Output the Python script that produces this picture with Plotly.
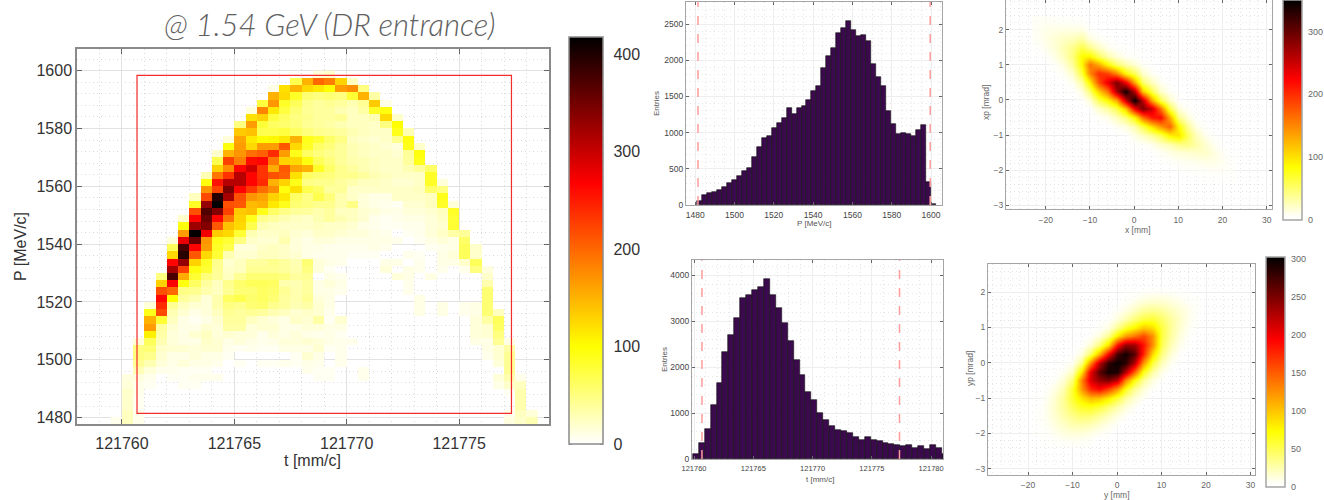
import plotly.graph_objects as go

W, H = 1324, 500

# ---------- main t-P map: (P low edge, t offset from T0, cell values) ----------
T0 = 121760
T_STEP = 0.5
P_STEP = 2.5
T_EDGES = [T0 - 0.5 + T_STEP * i for i in range(39)]
P_EDGES = [1477.5 + P_STEP * i for i in range(50)]
TP_SEGMENTS = [
    (1597.5, 8.5, [15, 20]),
    (1595, 7.5, [70, 150, 200, 185, 130, 25]),
    (1592.5, 6.5, [10, 120, 150, 125, 115, 100, 165, 175, 50]),
    (1590, 6.5, [150, 125, 85, 55, 50, 55, 50, 80, 150, 35]),
    (1587.5, 6, [75, 170, 85, 65, 45, 38, 42, 38, 30, 42, 135, 10]),
    (1585, 5.5, [15, 180, 115, 75, 55, 42, 38, 38, 30, 25, 35, 85, 95]),
    (1582.5, 5.5, [120, 130, 75, 62, 50, 45, 38, 38, 42, 25, 25, 30, 125, 20]),
    (1580, 5, [50, 165, 78, 62, 58, 52, 42, 38, 35, 30, 25, 25, 22, 50, 100]),
    (1577.5, 5, [135, 140, 70, 70, 75, 62, 52, 45, 42, 38, 30, 25, 22, 22, 90, 30]),
    (1575, 4.5, [15, 160, 115, 100, 105, 115, 150, 90, 80, 60, 48, 25, 22, 18, 22, 45, 95]),
    (1572.5, 4.5, [95, 165, 125, 165, 165, 210, 125, 85, 60, 52, 40, 30, 25, 22, 18, 14, 90, 20]),
    (1570, 4, [20, 150, 170, 195, 205, 240, 165, 90, 62, 52, 45, 40, 30, 25, 22, 22, 18, 40, 95]),
    (1567.5, 4, [70, 225, 185, 260, 265, 190, 130, 125, 95, 65, 52, 40, 32, 30, 25, 22, 22, 38, 90]),
    (1565, 4, [130, 175, 265, 295, 235, 155, 210, 160, 150, 85, 60, 45, 38, 30, 25, 22, 22, 30, 40, 60]),
    (1562.5, 3.5, [30, 190, 235, 310, 265, 235, 215, 205, 120, 62, 55, 52, 45, 45, 38, 30, 25, 22, 22, 22, 85]),
    (1560, 3.5, [95, 255, 310, 310, 265, 240, 150, 130, 90, 48, 45, 45, 38, 32, 25, 25, 22, 18, 18, 22, 85, 15]),
    (1557.5, 3.5, [170, 225, 345, 265, 230, 195, 175, 95, 120, 70, 60, 38, 40, 22, 22, 22, 22, 22, 22, 25, 60, 50]),
    (1555, 3, [25, 220, 395, 320, 215, 170, 160, 130, 115, 60, 48, 70, 52, 32, 22, 15, 10, 10, 22, 22, 22, 25, 90]),
    (1552.5, 3, [85, 330, 415, 215, 210, 145, 150, 115, 90, 55, 50, 45, 45, 32, 48, 15, 10, 8, 5, 18, 18, 25, 85, 15]),
    (1550, 3, [215, 370, 340, 225, 135, 140, 90, 60, 48, 40, 38, 32, 38, 25, 25, 18, 15, 10, 10, 15, 15, 18, 25, 85]),
    (1547.5, 2.5, [20, 265, 355, 265, 190, 130, 90, 45, 38, 30, 25, 22, 30, 38, 30, 25, 18, 8, 5, 8, 10, 10, 15, 22, 80]),
    (1545, 2.5, [95, 325, 340, 210, 140, 125, 70, 30, 25, 22, 22, 22, 25, 22, 22, 18, 10, 8, 5, 5, 8, 8, 15, 18, 80]),
    (1542.5, 2.5, [165, 415, 275, 135, 125, 80, 30, 22, 22, 25, 18, 15, 22, 22, 18, 15, 15, 10, 8, 0, 5, 8, 15, 22, 35, 40]),
    (1540, 2, [15, 280, 355, 170, 90, 80, 50, 22, 18, 18, 32, 15, 10, 15, 15, 10, 10, 10, 10, 10, 8, 0, 5, 10, 15, 10, 60]),
    (1537.5, 2, [65, 375, 265, 165, 85, 70, 15, 15, 22, 25, 22, 15, 10, 10, 8, 8, 8, 8, 10, 8, 0, 0, 0, 5, 8, 10, 65, 20]),
    (1535, 2, [125, 395, 210, 125, 80, 30, 18, 18, 25, 25, 22, 18, 10, 8, 8, 8, 5, 5, 5, 0, 0, 8, 5, 0, 10, 15, 65, 20]),
    (1532.5, 2, [265, 330, 130, 85, 45, 18, 25, 38, 38, 45, 38, 30, 55, 15, 10, 8, 0, 0, 0, 10, 10, 0, 8, 0, 10, 10, 20, 65]),
    (1530, 2, [320, 225, 95, 80, 42, 22, 25, 42, 42, 42, 38, 32, 50, 15, 5, 0, 0, 0, 0, 15, 0, 10, 8, 0, 8, 0, 8, 50, 12]),
    (1527.5, 1.5, [50, 375, 155, 80, 52, 40, 25, 42, 55, 55, 55, 50, 38, 42, 0, 10, 8]),
    (1527.5, 12, [15, 10, 0, 10]), (1527.5, 16, [20]),
    (1525, 1.5, [130, 270, 95, 62, 38, 25, 45, 58, 65, 65, 62, 32, 30, 38, 10, 15, 10]),
    (1525, 12.5, [8]), (1525, 16, [32]),
    (1522.5, 1.5, [215, 200, 48, 45, 32, 25, 42, 55, 55, 62, 58, 42, 32, 38, 10, 10, 8]),
    (1522.5, 12.5, [8]), (1522.5, 16, [55]),
    (1520, 1.5, [265, 100, 38, 30, 15, 32, 62, 70, 58, 62, 55, 38, 32, 42, 15, 10]),
    (1520, 13, [10]), (1520, 16, [55]),
    (1517.5, 1, [15, 240, 42, 25, 18, 15, 32, 50, 45, 55, 58, 45, 38, 30, 35, 18, 10]),
    (1517.5, 13, [10, 0, 10, 0, 8, 10, 55]),
    (1515, 1, [90, 220, 30, 18, 10, 15, 25, 42, 38, 42, 38, 30, 25, 18, 22, 18, 8]),
    (1515, 13, [10, 0, 10, 0, 8, 10, 55, 25]),
    (1512.5, 1, [150, 80, 25, 10, 5, 10, 18, 38, 38, 25, 18, 15, 10, 22, 18, 35, 5, 18]),
    (1512.5, 15.5, [15, 35, 65]),
    (1510, 1, [165, 38, 18, 10, 10, 18, 15, 35, 35, 15, 18, 18, 10, 10, 15, 15, 10, 10]),
    (1510, 15.5, [15, 18, 60]),
    (1507.5, 1, [110, 35, 15, 10, 18, 25, 15, 18, 15, 15, 8, 15, 10, 15, 10, 8, 10, 5]),
    (1507.5, 15.5, [15, 18, 50]),
    (1505, 0.5, [15, 65, 30, 15, 10, 10, 22, 18, 10, 15, 10, 8, 10, 15, 15, 18, 15, 10, 8, 8]),
    (1505, 15.5, [10, 10, 42, 10]),
    (1502.5, 0.5, [50, 55, 22, 18, 18, 15, 18, 18, 8, 5, 8, 5, 5, 10, 10, 10, 18, 5, 8]),
    (1502.5, 16, [10, 18, 35]),
    (1500, 0.5, [50, 45, 18, 10, 10, 15, 10, 10, 5, 0, 0, 0, 0, 0, 5, 18, 10, 0, 8]),
    (1500, 16, [8, 18, 42]),
    (1497.5, 0.5, [42, 30, 15, 10, 15, 10, 10, 8, 0, 5, 0, 5, 5, 8, 5, 10, 8, 0, 8]),
    (1497.5, 16.5, [15, 42]),
    (1495, 0.5, [28, 15, 8, 8, 5, 5, 5, 0, 0, 0, 0, 0, 0, 0, 0, 8, 5, 5]),
    (1495, 10.5, [8]), (1495, 17, [42]),
    (1492.5, 0, [12, 12, 8, 0, 5, 5, 8, 8, 8]),
    (1492.5, 8.5, [5, 5, 0, 0, 8]), (1492.5, 16.5, [15, 32, 8]),
    (1490, 0, [15, 8, 5, 0, 0, 5, 5]), (1490, 16.5, [10, 20, 25]),
    (1487.5, 0, [20, 8]), (1487.5, 17, [5, 32]),
    (1485, 0, [20, 5]), (1485, 17.5, [32]),
    (1482.5, 0, [20, 5]), (1482.5, 17.5, [32]),
    (1480, 0, [25, 8]), (1480, 17, [8, 25, 15]),
    (1477.5, -0.5, [8, 25, 8]), (1477.5, 17, [12, 20, 30]),
]
BOX_T = [121760.67, 121777.33]
BOX_P = [1481.5, 1598.4]

# ---------- momentum histogram ----------
HP_START = 1481.0
HP_WIDTH = 2.528
HP_COUNTS = [60, 145, 165, 185, 210, 255, 300, 345, 400, 475, 510, 665, 795, 925, 955, 1065,
             1130, 1205, 1340, 1260, 1345, 1370, 1455, 1570, 1645, 1900, 2065, 2165, 2380,
             2445, 2540, 2415, 2330, 2350, 2265, 1945, 1770, 1645, 1300, 1120, 975, 990, 980,
             960, 1030, 1105, 311, 10]
HP_CUTS = [1481.4, 1599.6]

# ---------- time histogram ----------
HT_START = 121759.9
HT_WIDTH = 0.5
HT_COUNTS = [110, 340, 660, 1170, 1665, 2320, 2700, 3060, 3500, 3580, 3670, 3740, 3930, 3570,
             3290, 2960, 2560, 2160, 1820, 1460, 1280, 1000, 840, 710, 630, 600, 570, 490, 410,
             470, 415, 385, 350, 335, 310, 280, 295, 240, 280, 225, 300, 250, 110]
HT_CUTS = [121760.67, 121777.33]

# ---------- transverse phase-space maps: column -> (first row, values upward) ----------
ANGLE_ROWS = [-2.25 + 0.25 * i for i in range(19)]
X_COLUMNS = {
    -22: (1.25, [2, 4, 7, 8, 7]),
    -20: (1.0, [1, 5, 10, 12, 11, 7]),
    -18: (0.75, [3, 6, 12, 17, 17, 12, 6]),
    -16: (0.5, [3, 8, 15, 25, 28, 22, 13, 6]),
    -14: (0.25, [3, 9, 20, 36, 45, 40, 25, 13, 5]),
    -12: (0.0, [4, 14, 32, 63, 85, 85, 61, 31, 13, 4]),
    -10: (-0.25, [5, 16, 46, 90, 148, 160, 90, 40, 14, 4]),
    -8: (-0.5, [6, 20, 56, 110, 180, 200, 130, 55, 22, 7, 2]),
    -6: (-0.75, [3, 10, 35, 85, 160, 235, 190, 85, 30, 10, 3]),
    -4: (-0.75, [8, 25, 60, 130, 270, 290, 150, 50, 16, 5]),
    -2: (-1.0, [3, 14, 45, 115, 250, 345, 230, 85, 30, 8, 3]),
    0: (-1.25, [4, 12, 30, 85, 230, 350, 260, 130, 55, 18, 5, 2]),
    2: (-1.25, [6, 22, 60, 160, 290, 260, 115, 50, 20, 6, 2]),
    4: (-1.5, [4, 10, 35, 100, 210, 250, 135, 60, 25, 8, 3]),
    6: (-1.75, [3, 7, 20, 55, 140, 220, 160, 60, 20, 8, 3]),
    8: (-1.75, [5, 12, 28, 90, 170, 130, 60, 22, 8, 3]),
    10: (-2.0, [3, 8, 16, 40, 100, 85, 40, 15, 5, 2]),
    12: (-2.0, [5, 9, 18, 42, 55, 38, 16, 6, 2]),
    14: (-2.0, [5, 10, 20, 32, 26, 13, 5, 2]),
    16: (-2.25, [2, 6, 12, 21, 20, 11, 4, 1]),
    18: (-2.25, [3, 7, 12, 14, 9, 4, 1]),
    20: (-2.25, [3, 6, 9, 7, 3, 1]),
    22: (-2.25, [3, 5, 4, 2]),
}
Y_COLUMNS = {
    -18: (-2.0, [2, 3, 3, 3, 2, 1]),
    -16: (-2.25, [2, 4, 6, 8, 8, 6, 4, 2, 1]),
    -14: (-2.25, [4, 8, 12, 16, 18, 16, 11, 6, 3, 1]),
    -12: (-2.25, [5, 12, 18, 26, 31, 32, 25, 15, 8, 3, 1]),
    -10: (-2.25, [6, 14, 24, 35, 48, 60, 60, 40, 20, 8, 3, 1]),
    -8: (-2.25, [5, 14, 25, 42, 62, 85, 120, 130, 85, 35, 12, 4, 1]),
    -6: (-2.25, [4, 10, 22, 40, 65, 105, 175, 210, 205, 130, 45, 15, 5, 2]),
    -4: (-2.0, [7, 15, 30, 55, 100, 190, 240, 265, 225, 110, 40, 14, 5, 2]),
    -2: (-2.0, [4, 9, 20, 40, 80, 160, 250, 295, 285, 195, 90, 35, 12, 5, 2]),
    0: (-1.75, [5, 11, 25, 55, 120, 220, 290, 300, 275, 190, 85, 35, 13, 6, 2]),
    2: (-1.5, [6, 13, 30, 65, 130, 225, 285, 295, 240, 120, 60, 25, 11, 5, 2]),
    4: (-1.25, [6, 15, 32, 70, 145, 225, 265, 235, 140, 80, 40, 20, 9, 3]),
    6: (-1.0, [6, 14, 30, 65, 120, 175, 185, 160, 100, 55, 30, 14, 5]),
    8: (-0.75, [5, 12, 28, 55, 90, 125, 125, 90, 58, 34, 16, 6]),
    10: (-0.5, [4, 10, 22, 38, 50, 55, 55, 45, 30, 16, 6]),
    12: (-0.25, [3, 8, 15, 24, 30, 32, 30, 22, 13, 5]),
    14: (0.0, [2, 5, 9, 13, 16, 18, 15, 9, 4]),
    16: (0.5, [3, 5, 7, 9, 9, 5, 2]),
    18: (1.0, [2, 3, 4, 3, 1]),
}


def px(x):
    return x / W


def py(y):
    return 1 - y / H


def map_from_segments():
    z = [[None] * (len(T_EDGES) - 1) for _ in range(len(P_EDGES) - 1)]
    for p, t, vals in TP_SEGMENTS:
        r = int(round((p - P_EDGES[0]) / P_STEP))
        c = int(round((T0 + t - T_EDGES[0]) / T_STEP))
        for k, v in enumerate(vals):
            if v > 0:
                z[r][c + k] = v
    return z


def map_from_columns(cols):
    xs = sorted(cols)
    z = [[0] * len(xs) for _ in ANGLE_ROWS]
    for j, x in enumerate(xs):
        first, vals = cols[x]
        i0 = int(round((first - ANGLE_ROWS[0]) / 0.25))
        for k, v in enumerate(vals):
            z[i0 + k][j] = v
    return xs, z


HOT = [[0.0, "#ffffff"], [0.24, "#ffff00"], [0.64, "#ff0000"], [1.0, "#000000"]]
HOT_A = [[0.0, "rgba(255,255,255,0)"], [0.03, "rgba(255,255,235,1)"], [0.24, "#ffff00"],
         [0.64, "#ff0000"], [1.0, "#000000"]]
FONT = "Liberation Sans"
BARC = "#3b0a4c"


def axis(box_lo, box_hi, rng, dtick, minor, size, col, tick0=0, anchor=None, tlen=3,
         grid="#e2e2e2", mgrid="#dcdcdc", line="#8a8a8a", lw=1.5, standoff=0):
    return dict(
        domain=[box_lo, box_hi], range=rng, dtick=dtick, tick0=tick0, tickformat="d",
        showgrid=True, gridcolor=grid, gridwidth=1, zeroline=False,
        showline=True, linecolor=line, linewidth=lw, mirror="ticks",
        ticks="inside", ticklen=tlen, tickcolor="#666666", tickwidth=1, ticklabelstandoff=standoff,
        tickfont=dict(family=FONT, size=size, color=col), anchor=anchor,
        minor=dict(dtick=minor, tick0=tick0, showgrid=True, gridcolor=mgrid,
                   griddash="1px,3px", gridwidth=1, ticks=""),
    )


def cbar(x0, x1, y0, y1, vals, size, col, gap, line):
    # transparent outside ticks only set the gap between bar and labels
    return dict(
        x=px(x0), xanchor="left", y=py(y0), yanchor="top", len=(y1 - y0) / H, lenmode="fraction",
        thickness=x1 - x0, thicknessmode="pixels", xpad=0, ypad=0, outlinecolor=line,
        outlinewidth=1.5, tickvals=vals, ticks="outside", ticklen=gap, tickcolor="rgba(0,0,0,0)",
        tickfont=dict(family=FONT, size=size, color=col),
    )


def cbar_ticks(x0, x1, y0, y1, vals, zmax, ln):
    out = []
    for v in vals:
        y = py(y1 - v / zmax * (y1 - y0))
        for a, b in ((x0, x0 + ln), (x1 - ln, x1)):
            out.append(dict(type="line", xref="paper", yref="paper", x0=px(a), x1=px(b), y0=y, y1=y,
                            line=dict(color="#333333", width=1)))
    return out


CB_MAIN = [0, 100, 200, 300, 400]
CB_X = [0, 100, 200, 300]
CB_Y = [0, 50, 100, 150, 200, 250, 300]

fig = go.Figure()

# main map
fig.add_trace(go.Heatmap(x=T_EDGES, y=P_EDGES, z=map_from_segments(), colorscale=HOT, zmin=0, zmax=418,
                         xaxis="x", yaxis="y", hoverongaps=False,
                         colorbar=cbar(569, 603, 37, 444, CB_MAIN, 16, "#333333", 7, "#8a8a8a")))

# histograms
fig.add_trace(go.Bar(x=[HP_START + HP_WIDTH * (i + 0.5) for i in range(len(HP_COUNTS))], y=HP_COUNTS,
                     width=HP_WIDTH, marker=dict(color=BARC, line=dict(color="#111111", width=0.6)),
                     xaxis="x2", yaxis="y2", showlegend=False))
fig.add_trace(go.Bar(x=[HT_START + HT_WIDTH * (i + 0.5) for i in range(len(HT_COUNTS))], y=HT_COUNTS,
                     width=HT_WIDTH, marker=dict(color=BARC, line=dict(color="#111111", width=0.6)),
                     xaxis="x3", yaxis="y3", showlegend=False))

# transverse maps
xs, zx = map_from_columns(X_COLUMNS)
fig.add_trace(go.Heatmap(x=xs, y=ANGLE_ROWS, z=zx, colorscale=HOT_A, zmin=0, zmax=350, zsmooth="best",
                         xaxis="x4", yaxis="y4",
                         colorbar=cbar(1283, 1302, 0, 220, CB_X, 9, "#666666", 4, "#a5a5a5")))
ys, zy = map_from_columns(Y_COLUMNS)
fig.add_trace(go.Heatmap(x=ys, y=ANGLE_ROWS, z=zy, colorscale=HOT_A, zmin=0, zmax=303, zsmooth="best",
                         xaxis="x5", yaxis="y5",
                         colorbar=cbar(1266, 1285, 257, 487, CB_Y, 9, "#666666", 4, "#a5a5a5")))

shapes = [dict(type="rect", xref="x", yref="y", x0=BOX_T[0], x1=BOX_T[1], y0=BOX_P[0], y1=BOX_P[1],
               line=dict(color="#f52a2a", width=1.2))]
for c in HP_CUTS:
    shapes.append(dict(type="line", xref="x2", yref="y2 domain", x0=c, x1=c, y0=0, y1=1,
                       line=dict(color="#ff9c9c", width=1.5, dash="dash")))
for c in HT_CUTS:
    shapes.append(dict(type="line", xref="x3", yref="y3 domain", x0=c, x1=c, y0=0, y1=1,
                       line=dict(color="#ff9c9c", width=1.5, dash="dash")))
shapes += cbar_ticks(569, 603, 37, 444, CB_MAIN, 418, 3)


def note(text, x, y, size, color, angle=0, **kw):
    return dict(text=text, x=px(x), y=py(y), xref="paper", yref="paper", showarrow=False,
                xanchor="center", yanchor="middle", textangle=angle,
                font=dict(family=kw.get("family", FONT), size=size, color=color,
                          style=kw.get("style", "normal"), weight=kw.get("weight", "normal")))


annotations = [
    note("@ 1.54 GeV (DR entrance)", 329, 24, 31, "#606060", family="Lato Light, Lato", style="italic", weight=300),
    note("t [mm/c]", 312, 460, 16, "#333333"),
    note("P [MeV/c]", 20, 247, 16, "#333333", angle=-90),
    note("P [MeV/c]", 814, 224, 8, "#555555"),
    note("Entries", 657, 104, 8, "#555555", angle=-90),
    note("t [mm/c]", 820, 479, 8, "#555555"),
    note("Entries", 664, 360, 8, "#555555", angle=-90),
    note("x [mm]", 1138, 230, 8.5, "#666666"),
    note("xp [mrad]", 986, 103, 8.5, "#666666", angle=-90),
    note("y [mm]", 1117, 495, 8.5, "#666666"),
    note("yp [mrad]", 970, 368, 8.5, "#666666", angle=-90),
]

SM_AX = dict(grid="#eeeeee", mgrid="#e6e6e6", line="#a5a5a5", lw=1.2)
fig.update_layout(
    width=W, height=H, margin=dict(l=0, r=0, t=0, b=0, autoexpand=False), paper_bgcolor="white",
    plot_bgcolor="white", showlegend=False, bargap=0, shapes=shapes, annotations=annotations,
    xaxis=axis(px(77), px(549), [121758, 121779], 5, 1, 16, "#333333", tick0=121760, anchor="y", tlen=5, standoff=4),
    yaxis=axis(py(424), py(49), [1477.8, 1607.5], 20, 4, 16, "#333333", tick0=1480, anchor="x", tlen=5),
    xaxis2=axis(px(686), px(942), [1475.3, 1605.6], 20, 5, 8.5, "#444444", tick0=1480, anchor="y2", standoff=2, **SM_AX),
    yaxis2=axis(py(205), py(2), [0, 2805], 500, 100, 8.5, "#444444", anchor="x2", **SM_AX),
    xaxis3=axis(px(692), px(943), [121759.83, 121781], 5, 1, 7.5, "#444444", tick0=121760, anchor="y3", standoff=2, **SM_AX),
    yaxis3=axis(py(459), py(260), [0, 4333], 1000, 200, 8.5, "#444444", anchor="x3", **SM_AX),
    xaxis4=axis(px(1006), px(1272), [-29, 31.2], 10, 2, 8.5, "#666666", anchor="y4", standoff=3, **SM_AX),
    yaxis4=axis(py(209), 1, [-3.1, 2.84], 1, 0.2, 8.5, "#666666", anchor="x4", **SM_AX),
    xaxis5=axis(px(988), px(1255), [-29, 31], 10, 2, 8.5, "#666666", anchor="y5", standoff=2, **SM_AX),
    yaxis5=axis(py(475), py(264), [-3.18, 2.8], 1, 0.2, 8.5, "#666666", anchor="x5", **SM_AX),
)

fig.write_html("out.html", config={"displayModeBar": False},
               post_script="document.body.style.margin='0';document.body.style.overflow='hidden';")
